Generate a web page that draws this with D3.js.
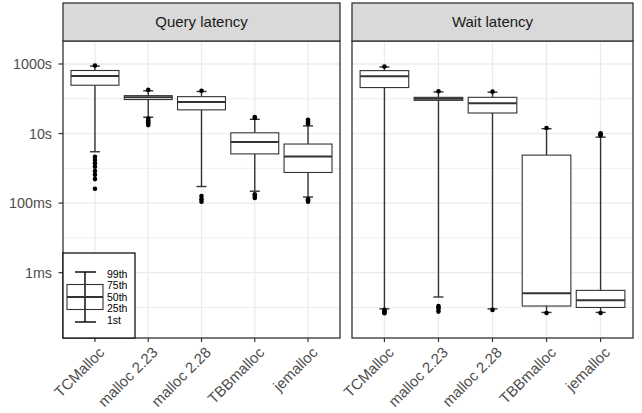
<!DOCTYPE html>
<html>
<head>
<meta charset="utf-8">
<script src="https://cdn.jsdelivr.net/npm/d3@7"></script>
<style>
  body { margin: 0; background: #fff; }
  text { font-family: "Liberation Sans", Arial, Helvetica, sans-serif; }
</style>
</head>
<body>
<svg width="642" height="413"></svg>
<script>
// allocators on the x axis
var allocators = ["TCMalloc", "malloc 2.23", "malloc 2.28", "TBBmalloc", "jemalloc"];
var panels = ["Query latency", "Wait latency"];

// y ticks (seconds)
var majorTicks = [0.001, 0.1, 10, 1000];
var majorLabels = ["1ms", "100ms", "10s", "1000s"];
var minorTicks = [0.0001, 0.01, 1, 100];

// query latency percentiles, seconds
var queryP01 = [3.0, 29.5, 0.30, 0.22, 0.15];
var queryP25 = [245, 95, 48, 2.6, 0.76];
var queryP50 = [450, 110, 81, 5.7, 2.2];
var queryP75 = [650, 123, 115, 10.5, 5.0];
var queryP99 = [870, 170, 162, 25.7, 16.6];
var queryOut = [
  [900, 2.16, 1.74, 1.40, 1.11, 0.84, 0.65, 0.49, 0.26],
  [180, 27, 24, 21, 19, 17.5],
  [170, 0.16, 0.13, 0.11],
  [30, 28, 0.18, 0.16, 0.14],
  [25, 22, 20, 19, 0.13, 0.12, 0.11]
];

// wait latency percentiles, seconds
var waitP01 = [9.1e-5, 2.0e-4, 9.1e-5, 7.2e-5, 7.2e-5];
var waitP25 = [210, 90, 39, 1.1e-4, 1.0e-4];
var waitP50 = [445, 100, 74, 2.57e-4, 1.6e-4];
var waitP75 = [645, 110, 110, 2.4, 3.1e-4];
var waitP99 = [820, 158, 155, 13.8, 7.9];
var waitOut = [
  [850, 8.5e-5, 7.8e-5, 7.2e-5, 6.8e-5],
  [165, 1.1e-4, 1.0e-4, 9e-5, 7.6e-5],
  [160, 8.5e-5],
  [14.5, 6.9e-5],
  [10.2, 9.5, 8.8, 6.9e-5]
];

var svg = d3.select("svg");
var top0 = 3, stripH = 38, bottom = 338;
var plotTop = top0 + stripH;
var panelX = [[63, 340], [352, 633]];

var y = d3.scaleLog()
  .domain([Math.pow(10, -4.878), Math.pow(10, 3.661)])
  .range([bottom, plotTop]);

function build(p01, p25, p50, p75, p99, out) {
  return allocators.map(function(a, i) {
    return { name: a, p01: p01[i], p25: p25[i], p50: p50[i], p75: p75[i], p99: p99[i], out: out[i] };
  });
}
var data = [
  build(queryP01, queryP25, queryP50, queryP75, queryP99, queryOut),
  build(waitP01, waitP25, waitP50, waitP75, waitP99, waitOut)
];

panels.forEach(function(title, pi) {
  var x0 = panelX[pi][0], x1 = panelX[pi][1];
  var x = d3.scalePoint().domain(allocators).range([x0, x1]).padding(0.6);
  var bw = x.step() * 0.9;
  var g = svg.append("g");

  // grid
  g.selectAll(".minor").data(minorTicks).enter().append("line")
    .attr("x1", x0).attr("x2", x1)
    .attr("y1", function(d) { return y(d); }).attr("y2", function(d) { return y(d); })
    .attr("stroke", "#ebebeb").attr("stroke-width", 0.9);
  g.selectAll(".major").data(majorTicks).enter().append("line")
    .attr("x1", x0).attr("x2", x1)
    .attr("y1", function(d) { return y(d); }).attr("y2", function(d) { return y(d); })
    .attr("stroke", "#ebebeb").attr("stroke-width", 1.3);
  g.selectAll(".vgrid").data(allocators).enter().append("line")
    .attr("x1", function(d) { return x(d); }).attr("x2", function(d) { return x(d); })
    .attr("y1", plotTop).attr("y2", bottom)
    .attr("stroke", "#ebebeb").attr("stroke-width", 1.3);

  var boxes = g.selectAll(".box").data(data[pi]).enter().append("g");
  boxes.append("line")
    .attr("x1", function(d) { return x(d.name); }).attr("x2", function(d) { return x(d.name); })
    .attr("y1", function(d) { return y(d.p99); }).attr("y2", function(d) { return y(d.p75); })
    .attr("stroke", "#333").attr("stroke-width", 1.4);
  boxes.append("line")
    .attr("x1", function(d) { return x(d.name); }).attr("x2", function(d) { return x(d.name); })
    .attr("y1", function(d) { return y(d.p25); }).attr("y2", function(d) { return y(d.p01); })
    .attr("stroke", "#333").attr("stroke-width", 1.4);
  ["p99", "p01"].forEach(function(k) {
    boxes.append("line")
      .attr("x1", function(d) { return x(d.name) - 5; }).attr("x2", function(d) { return x(d.name) + 5; })
      .attr("y1", function(d) { return y(d[k]); }).attr("y2", function(d) { return y(d[k]); })
      .attr("stroke", "#333").attr("stroke-width", 1.4);
  });
  boxes.append("rect")
    .attr("x", function(d) { return x(d.name) - bw / 2; })
    .attr("width", bw)
    .attr("y", function(d) { return y(d.p75); })
    .attr("height", function(d) { return y(d.p25) - y(d.p75); })
    .attr("fill", "#fff").attr("stroke", "#333").attr("stroke-width", 1.1);
  boxes.append("line")
    .attr("x1", function(d) { return x(d.name) - bw / 2; }).attr("x2", function(d) { return x(d.name) + bw / 2; })
    .attr("y1", function(d) { return y(d.p50); }).attr("y2", function(d) { return y(d.p50); })
    .attr("stroke", "#333").attr("stroke-width", 2);
  boxes.each(function(d) {
    d3.select(this).selectAll("circle").data(d.out).enter().append("circle")
      .attr("cx", x(d.name)).attr("cy", function(v) { return y(v); })
      .attr("r", 2.3).attr("fill", "#000");
  });

  // panel border
  g.append("rect").attr("x", x0).attr("y", plotTop).attr("width", x1 - x0).attr("height", bottom - plotTop)
    .attr("fill", "none").attr("stroke", "#333").attr("stroke-width", 1.3);
  // strip
  g.append("rect").attr("x", x0).attr("y", top0).attr("width", x1 - x0).attr("height", stripH)
    .attr("fill", "#d9d9d9").attr("stroke", "#333").attr("stroke-width", 1.3);
  g.append("text").attr("x", (x0 + x1) / 2).attr("y", top0 + stripH / 2 + 5)
    .attr("text-anchor", "middle").attr("fill", "#1a1a1a").style("font-size", "15px").text(title);

  // x axis ticks and labels
  g.selectAll(".xt").data(allocators).enter().append("line")
    .attr("x1", function(d) { return x(d); }).attr("x2", function(d) { return x(d); })
    .attr("y1", bottom).attr("y2", bottom + 4).attr("stroke", "#333").attr("stroke-width", 1.2);
  g.selectAll(".xl").data(allocators).enter().append("text")
    .attr("transform", function(d) { return "translate(" + (x(d) + 3) + "," + (bottom + 8) + ") rotate(-45)"; })
    .attr("text-anchor", "end").attr("dy", "0.7em").attr("fill", "#4d4d4d").style("font-size", "15px")
    .text(function(d) { return d; });

  if (pi === 0) {
    g.selectAll(".yt").data(majorTicks).enter().append("line")
      .attr("x1", x0 - 4.5).attr("x2", x0)
      .attr("y1", function(d) { return y(d); }).attr("y2", function(d) { return y(d); })
      .attr("stroke", "#333").attr("stroke-width", 1.2);
    g.selectAll(".yl").data(majorTicks).enter().append("text")
      .attr("x", x0 - 11).attr("y", function(d) { return y(d); }).attr("dy", "0.35em")
      .attr("text-anchor", "end").attr("fill", "#4d4d4d").style("font-size", "14.3px")
      .text(function(d, i) { return majorLabels[i]; });

    // percentile key
    var lg = g.append("g");
    lg.append("rect").attr("x", x0).attr("y", 253).attr("width", 72).attr("height", bottom - 253)
      .attr("fill", "#fff").attr("stroke", "#000").attr("stroke-width", 1.2);
    lg.append("line").attr("x1", 85).attr("x2", 85).attr("y1", 272).attr("y2", 322).attr("stroke", "#000").attr("stroke-width", 1.4);
    lg.append("line").attr("x1", 75).attr("x2", 96).attr("y1", 272).attr("y2", 272).attr("stroke", "#000").attr("stroke-width", 1.4);
    lg.append("line").attr("x1", 75).attr("x2", 96).attr("y1", 322).attr("y2", 322).attr("stroke", "#000").attr("stroke-width", 1.4);
    lg.append("rect").attr("x", 67).attr("y", 284.5).attr("width", 36).attr("height", 25)
      .attr("fill", "none").attr("stroke", "#333").attr("stroke-width", 1.1);
    lg.append("line").attr("x1", 67).attr("x2", 103).attr("y1", 297).attr("y2", 297).attr("stroke", "#333").attr("stroke-width", 2);
    var keyLabels = ["99th", "75th", "50th", "25th", "1st"];
    var keyY = [274, 285.5, 297, 308.5, 320.5];
    lg.selectAll("text").data(keyLabels).enter().append("text")
      .attr("x", 107).attr("y", function(d, i) { return keyY[i]; }).attr("dy", "0.35em")
      .attr("fill", "#000").style("font-size", "10.5px").text(function(d) { return d; });
  }
});
</script>
</body>
</html>
